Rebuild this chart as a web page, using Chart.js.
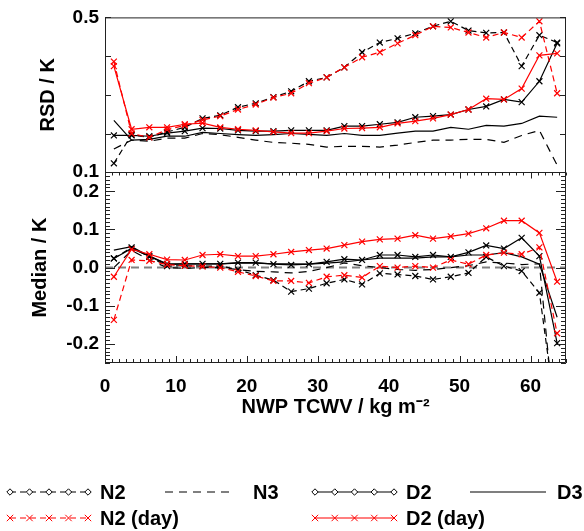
<!DOCTYPE html>
<html><head><meta charset="utf-8">
<script src="https://cdn.jsdelivr.net/npm/chart.js@4"></script>
<style>html,body{margin:0;padding:0;background:#fff}#wrap{width:584px;height:531px}</style>
</head><body><div id="wrap"><canvas id="c" width="584" height="531"></canvas></div>
<script>
// ---------- data ----------
const TCWV = [1.25,3.75,6.25,8.75,11.25,13.75,16.25,18.75,21.25,23.75,26.25,28.75,31.25,33.75,36.25,38.75,41.25,43.75,46.25,48.75,51.25,53.75,56.25,58.75,61.25,63.75];

const RSD_N2     = [0.123,0.197,0.190,0.204,0.216,0.239,0.247,0.268,0.278,0.294,0.309,0.335,0.345,0.371,0.410,0.435,0.446,0.459,0.477,0.490,0.466,0.460,0.461,0.374,0.454,0.435];
const RSD_N3     = [0.160,0.183,0.180,0.188,0.188,0.200,0.197,0.190,0.183,0.177,0.175,0.172,0.165,0.167,0.167,0.165,0.170,0.177,0.183,0.183,0.185,0.185,0.177,0.195,0.208,0.118];
const RSD_D2     = [0.195,0.195,0.193,0.201,0.206,0.214,0.213,0.208,0.206,0.206,0.208,0.208,0.208,0.219,0.219,0.224,0.229,0.242,0.245,0.249,0.262,0.270,0.288,0.281,0.335,0.433];
const RSD_D3     = [0.234,0.183,0.185,0.193,0.193,0.203,0.200,0.197,0.195,0.197,0.200,0.198,0.195,0.200,0.195,0.195,0.201,0.206,0.206,0.216,0.211,0.221,0.219,0.226,0.245,0.242];
const RSD_N2_DAY = [0.386,0.200,0.190,0.210,0.221,0.235,0.245,0.262,0.275,0.293,0.304,0.330,0.345,0.371,0.397,0.410,0.433,0.454,0.477,0.474,0.461,0.448,0.461,0.448,0.490,0.304];
const RSD_D2_DAY = [0.374,0.211,0.216,0.216,0.224,0.227,0.216,0.211,0.208,0.204,0.201,0.201,0.206,0.213,0.214,0.216,0.226,0.232,0.239,0.249,0.262,0.290,0.288,0.316,0.402,0.407];

const MED_N2     = [0.024,0.053,0.028,0.004,0.005,0.004,0.004,-0.005,-0.020,-0.033,-0.063,-0.055,-0.041,-0.031,-0.044,-0.015,-0.018,-0.022,-0.031,-0.024,-0.014,0.028,0.004,-0.009,-0.066,-0.410];
const MED_N3     = [0.000,0.045,0.020,0.000,-0.002,0.000,0.000,-0.005,-0.010,-0.011,-0.014,-0.010,0.000,0.012,0.005,0.000,-0.005,-0.007,-0.005,0.000,0.005,0.015,0.012,0.008,0.010,-0.470];
const MED_D2     = [0.024,0.050,0.030,0.010,0.010,0.010,0.010,0.013,0.013,0.009,0.007,0.009,0.015,0.022,0.020,0.033,0.033,0.028,0.033,0.028,0.040,0.058,0.050,0.078,0.030,-0.198];
const MED_D3     = [0.046,0.055,0.030,0.008,0.010,0.010,0.010,0.012,0.012,0.010,0.010,0.009,0.012,0.015,0.020,0.025,0.025,0.025,0.028,0.028,0.033,0.033,0.039,0.028,0.009,-0.130];
const MED_N2_DAY = [-0.137,0.020,0.018,0.008,0.005,0.003,0.000,-0.011,-0.022,-0.035,-0.035,-0.040,-0.024,-0.020,-0.026,0.004,0.000,0.004,0.000,0.020,0.009,0.033,0.039,0.035,0.053,-0.172];
const MED_D2_DAY = [-0.024,0.048,0.035,0.021,0.020,0.033,0.035,0.030,0.030,0.035,0.041,0.046,0.050,0.059,0.068,0.074,0.076,0.085,0.076,0.082,0.089,0.103,0.123,0.123,0.091,-0.037];

const X_TICKS = [0,10,20,30,40,50,60];
const RSD_TICKS = [0.1,0.2,0.3,0.4,0.5];
const RSD_LABELS = ['0.1','','','','0.5'];
const MED_TICKS = [-0.2,-0.1,0.0,0.1,0.2];
const MED_LABELS = ['-0.2','-0.1','0.0','0.1','0.2'];

const NAMES = ['N2','N3','D2','D3','N2 (day)','D2 (day)'];

// ---------- styles ----------
const RED = '#ff0000', BLACK = '#000000';
const STYLE = {
  'N2':       {color: BLACK, dash: [6,4], marker: 'crossRot', legendMarker: 'diamond'},
  'N3':       {color: BLACK, dash: [8,6], marker: false},
  'D2':       {color: BLACK, dash: [],    marker: 'crossRot', legendMarker: 'diamond'},
  'D3':       {color: BLACK, dash: [],    marker: false},
  'N2 (day)': {color: RED,   dash: [6,4], marker: 'crossRot', legendMarker: 'cross'},
  'D2 (day)': {color: RED,   dash: [],    marker: 'crossRot', legendMarker: 'cross'}
};
const RSD = {'N2': RSD_N2, 'N3': RSD_N3, 'D2': RSD_D2, 'D3': RSD_D3, 'N2 (day)': RSD_N2_DAY, 'D2 (day)': RSD_D2_DAY};
const MED = {'N2': MED_N2, 'N3': MED_N3, 'D2': MED_D2, 'D3': MED_D3, 'N2 (day)': MED_N2_DAY, 'D2 (day)': MED_D2_DAY};

const FONT = '"Liberation Sans", Arial, Helvetica, sans-serif';

function makeDataset(name, values, axis) {
  const s = STYLE[name];
  return {
    label: name,
    data: TCWV.map((x, i) => ({x: x, y: values[i]})),
    xAxisID: 'x', yAxisID: axis,
    borderColor: s.color, backgroundColor: s.color,
    borderWidth: 1.2, borderDash: s.dash,
    pointStyle: s.marker || 'circle',
    pointRadius: s.marker ? 4.2 : 0,
    pointBorderWidth: 1.2,
    pointBorderColor: s.color,
    tension: 0, fill: false
  };
}

// draw order: red on top, then black
const DRAW_ORDER = ['N2 (day)','D2 (day)','N2','D2','N3','D3'];
const datasets = [];
DRAW_ORDER.forEach(n => datasets.push(makeDataset(n, RSD[n], 'yTop')));
DRAW_ORDER.forEach(n => datasets.push(makeDataset(n, MED[n], 'yBot')));

// ---------- plugins ----------
const panelClip = {
  id: 'panelClip',
  beforeDatasetDraw(chart, args) {
    const ys = chart.scales[args.meta.yAxisID];
    const a = chart.chartArea;
    chart.ctx.save();
    chart.ctx.beginPath();
    chart.ctx.rect(a.left, ys.top, a.right - a.left, ys.bottom - ys.top);
    chart.ctx.clip();
  },
  afterDatasetDraw(chart) { chart.ctx.restore(); }
};

const zeroLine = {
  id: 'zeroLine',
  beforeDatasetsDraw(chart) {
    const ctx = chart.ctx, a = chart.chartArea, y = chart.scales.yBot.getPixelForValue(0);
    ctx.save();
    ctx.strokeStyle = '#808080'; ctx.lineWidth = 2; ctx.setLineDash([8,5]);
    ctx.beginPath(); ctx.moveTo(a.left, y); ctx.lineTo(a.right, y); ctx.stroke();
    ctx.restore();
  }
};

const frameTicks = {
  id: 'frameTicks',
  afterDatasetsDraw(chart) {
    const ctx = chart.ctx, a = chart.chartArea;
    const xs = chart.scales.x, yt = chart.scales.yTop, yb = chart.scales.yBot;
    ctx.save();
    ctx.strokeStyle = '#222'; ctx.lineWidth = 1; ctx.setLineDash([]);
    ctx.beginPath();
    ctx.rect(a.left + 0.5, a.top + 0.5, a.right - a.left - 1, a.bottom - a.top - 1);
    const mid = Math.round(yt.bottom) + 0.5;
    ctx.moveTo(a.left, mid); ctx.lineTo(a.right, mid);
    for (let v = 0; v <= 65; v += 1) {
      const px = Math.round(xs.getPixelForValue(v)) + 0.5;
      const major = v % 10 === 0;
      ctx.moveTo(px, a.bottom); ctx.lineTo(px, a.bottom - (major ? 7 : 4));
      ctx.moveTo(px, mid); ctx.lineTo(px, mid + (major ? 6 : 3));
    }
    RSD_TICKS.forEach(v => {
      const py = Math.round(yt.getPixelForValue(v)) + 0.5;
      ctx.moveTo(a.left, py); ctx.lineTo(a.left + 6, py);
      ctx.moveTo(a.right, py); ctx.lineTo(a.right - 6, py);
    });
    for (let k = -25; k <= 25; k++) {
      const v = k / 100;
      const py = Math.round(yb.getPixelForValue(v)) + 0.5;
      const major = k % 10 === 0;
      const L = major ? 10 : 5;
      ctx.moveTo(a.left, py); ctx.lineTo(a.left + L, py);
      ctx.moveTo(a.right, py); ctx.lineTo(a.right - L, py);
    }
    ctx.stroke();
    ctx.restore();
  }
};

const LEGEND_LAYOUT = [
  {name: 'N2',       x0: 10,  x1: 88,  tx: 100, y: 492},
  {name: 'N3',       x0: 165, x1: 234, tx: 253, y: 492},
  {name: 'D2',       x0: 315, x1: 394, tx: 406, y: 492},
  {name: 'D3',       x0: 470, x1: 546, tx: 557, y: 492},
  {name: 'N2 (day)', x0: 10,  x1: 88,  tx: 100, y: 518},
  {name: 'D2 (day)', x0: 315, x1: 394, tx: 406, y: 518}
];

function legendMarker(ctx, kind, x, y, color) {
  const r = 3.2;
  ctx.save();
  ctx.setLineDash([]);
  ctx.strokeStyle = color; ctx.lineWidth = 1;
  ctx.beginPath();
  if (kind === 'diamond') {
    ctx.moveTo(x, y - r); ctx.lineTo(x + r, y); ctx.lineTo(x, y + r); ctx.lineTo(x - r, y); ctx.closePath();
    ctx.fillStyle = '#fff'; ctx.fill();
  } else {
    ctx.moveTo(x - r, y - r); ctx.lineTo(x + r, y + r);
    ctx.moveTo(x - r, y + r); ctx.lineTo(x + r, y - r);
  }
  ctx.stroke();
  ctx.restore();
}

const customLegend = {
  id: 'customLegend',
  afterDraw(chart) {
    const ctx = chart.ctx;
    ctx.save();
    LEGEND_LAYOUT.forEach(it => {
      const s = STYLE[it.name];
      ctx.strokeStyle = s.color; ctx.lineWidth = 1.1;
      ctx.setLineDash(s.dash);
      ctx.beginPath(); ctx.moveTo(it.x0, it.y); ctx.lineTo(it.x1, it.y); ctx.stroke();
      if (s.legendMarker) {
        for (let k = 0; k < 5; k++) {
          legendMarker(ctx, s.legendMarker, it.x0 + (it.x1 - it.x0) * k / 4, it.y, s.color);
        }
      }
      ctx.setLineDash([]);
      ctx.fillStyle = '#000';
      ctx.font = 'bold 20px ' + FONT;
      ctx.textAlign = 'left'; ctx.textBaseline = 'middle';
      ctx.fillText(it.name, it.tx, it.y + 1);
    });
    ctx.restore();
  }
};

// ---------- chart ----------
const tickFont = {family: FONT, size: 19, weight: 'bold'};
const titleFont = {family: FONT, size: 20, weight: 'bold'};

new Chart(document.getElementById('c'), {
  type: 'line',
  data: {datasets: datasets},
  options: {
    responsive: false, animation: false, devicePixelRatio: 1,
    layout: {padding: {top: 17, right: 18, bottom: 112, left: 0}},
    plugins: {legend: {display: false}, tooltip: {enabled: false}},
    scales: {
      x: {
        type: 'linear', position: 'bottom', min: 0, max: 65,
        afterBuildTicks: s => { s.ticks = X_TICKS.map(v => ({value: v})); },
        afterFit: s => { s.height = 56; },
        grid: {display: false, drawTicks: false}, border: {display: false},
        ticks: {font: tickFont, color: '#000', padding: 12, maxRotation: 0, autoSkip: false,
                callback: v => String(v)},
        title: {display: true, text: 'NWP TCWV / kg m\u207B\u00B2', font: titleFont, color: '#000', padding: {top: 0, bottom: 0}}
      },
      yTop: {
        type: 'linear', position: 'left', stack: 'panels', stackWeight: 155, weight: 2,
        min: 0.1, max: 0.5,
        afterBuildTicks: s => { s.ticks = RSD_TICKS.map(v => ({value: v})); },
        afterFit: s => { s.width = 105; },
        grid: {display: false, drawTicks: false}, border: {display: false},
        ticks: {font: tickFont, color: '#000', padding: 6, autoSkip: false,
                callback: (v, i) => RSD_LABELS[i]},
        title: {display: true, text: 'RSD / K', font: titleFont, color: '#000', padding: {top: 36, bottom: 0}}
      },
      yBot: {
        type: 'linear', position: 'left', stack: 'panels', stackWeight: 191, weight: 1,
        min: -0.25, max: 0.25,
        afterBuildTicks: s => { s.ticks = MED_TICKS.map(v => ({value: v})); },
        afterFit: s => { s.width = 105; },
        grid: {display: false, drawTicks: false}, border: {display: false},
        ticks: {font: tickFont, color: '#000', padding: 6, autoSkip: false,
                callback: (v, i) => MED_LABELS[i]},
        title: {display: true, text: 'Median / K', font: titleFont, color: '#000', padding: {top: 28, bottom: 0}}
      }
    }
  },
  plugins: [panelClip, zeroLine, frameTicks, customLegend]
});
</script>
</body></html>
